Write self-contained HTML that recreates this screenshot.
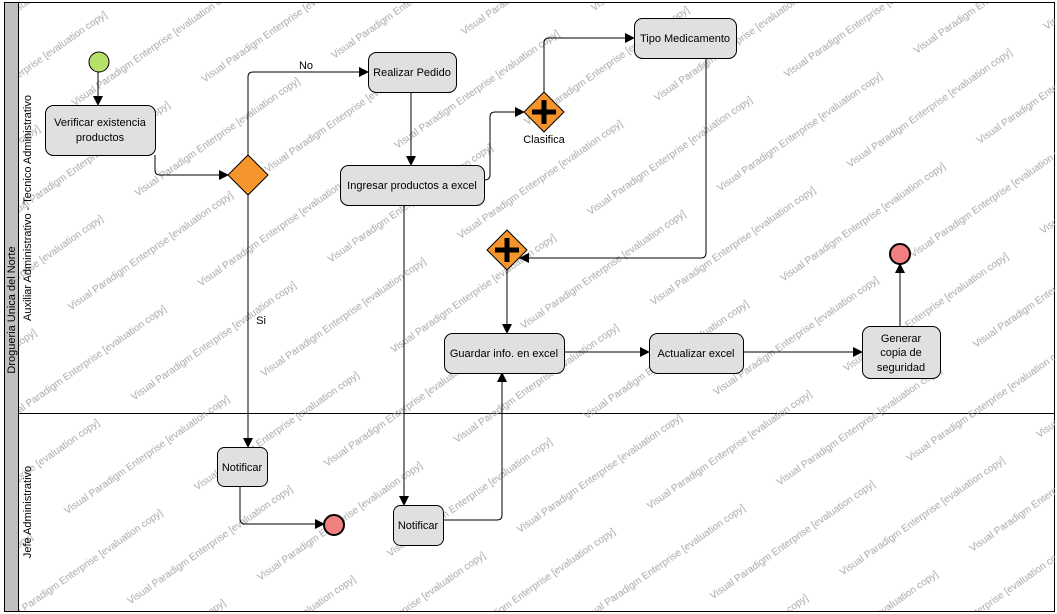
<!DOCTYPE html>
<html><head><meta charset="utf-8"><style>
html,body{margin:0;padding:0;background:#fff;}
svg{display:block;font-family:"Liberation Sans",sans-serif;}
</style></head><body>
<svg width="1057" height="614" viewBox="0 0 1057 614" xmlns="http://www.w3.org/2000/svg">
<defs>
<pattern id="wm" patternUnits="userSpaceOnUse" width="240" height="110" patternTransform="rotate(-35)">
<text x="0" y="20" font-size="10" fill="#a8a8a8">Visual Paradigm Enterprise [evaluation copy]</text>
<text x="120" y="75" font-size="10" fill="#a8a8a8">Visual Paradigm Enterprise [evaluation copy]</text>
<text x="-120" y="75" font-size="10" fill="#a8a8a8">Visual Paradigm Enterprise [evaluation copy]</text>
</pattern>
<marker id="a" markerWidth="10" markerHeight="10" refX="9" refY="5" orient="auto" markerUnits="userSpaceOnUse">
<path d="M0,0 L10,5 L0,10 z" fill="#000"/>
</marker>
</defs>
<rect x="0" y="0" width="1057" height="614" fill="#fff"/>
<rect x="4.5" y="2.5" width="1050" height="609" fill="none" stroke="#000"/>
<rect x="5" y="3" width="13" height="608" fill="#c0c0c0"/>
<line x1="18.5" y1="3" x2="18.5" y2="611" stroke="#000"/>
<line x1="18" y1="413.5" x2="1055" y2="413.5" stroke="#000"/>
<rect x="19" y="3" width="1036" height="608" fill="url(#wm)"/>
<text transform="translate(15,310) rotate(-90)" text-anchor="middle" font-size="11">Drogueria Unica del Norte</text>
<text transform="translate(31,208) rotate(-90)" text-anchor="middle" font-size="11">Auxiliar Administrativo - Tecnico Administrativo</text>
<text transform="translate(31,512) rotate(-90)" text-anchor="middle" font-size="11">Jefe Administrativo</text>

<g fill="none" stroke="#000" stroke-width="1">
<path d="M98,72 V105" marker-end="url(#a)"/>
<path d="M155,155 V170 Q155,175 160,175 H228" marker-end="url(#a)"/>
<path d="M248,155 V77 Q248,72 253,72 H368" marker-end="url(#a)"/>
<path d="M248,195 V447" marker-end="url(#a)"/>
<path d="M411,92 V165" marker-end="url(#a)"/>
<path d="M484,180 Q490,180 490,175 V117 Q490,112 495,112 H524" marker-end="url(#a)"/>
<path d="M544,92 V43 Q544,38 549,38 H634" marker-end="url(#a)"/>
<path d="M706,58 V253 Q706,258 701,258 H520" marker-end="url(#a)"/>
<path d="M507,270 V333" marker-end="url(#a)"/>
<path d="M404,205 V505" marker-end="url(#a)"/>
<path d="M443,520 H497 Q502,520 502,515 V373" marker-end="url(#a)"/>
<path d="M564,352 H649" marker-end="url(#a)"/>
<path d="M743,352 H862" marker-end="url(#a)"/>
<path d="M900,326 V264" marker-end="url(#a)"/>
<path d="M240,486 V519 Q240,524 245,524 H324" marker-end="url(#a)"/>
</g>
<text x="306" y="69" font-size="11" text-anchor="middle">No</text>
<text x="261" y="324" font-size="11" text-anchor="middle">Si</text>

<g fill="#e0e0e0" stroke="#000">
<rect x="45.5" y="105.5" width="110" height="50" rx="8"/>
<rect x="368.5" y="52.5" width="88" height="40" rx="8"/>
<rect x="340.5" y="165.5" width="144" height="40" rx="8"/>
<rect x="634.5" y="18.5" width="102" height="40" rx="8"/>
<rect x="444.5" y="333.5" width="120" height="40" rx="8"/>
<rect x="649.5" y="333.5" width="94" height="40" rx="8"/>
<rect x="862.5" y="326.5" width="78" height="52" rx="8"/>
<rect x="217.5" y="447.5" width="50" height="39" rx="7"/>
<rect x="393.5" y="505.5" width="50" height="40" rx="7"/>
</g>
<g font-size="11" text-anchor="middle" fill="#000">
<text x="100" y="126">Verificar  existencia</text>
<text x="100" y="141">productos</text>
<text x="412" y="76">Realizar Pedido</text>
<text x="412" y="189">Ingresar productos a excel</text>
<text x="685" y="42">Tipo Medicamento</text>
<text x="504" y="357">Guardar info. en excel</text>
<text x="696" y="357">Actualizar excel</text>
<text x="901" y="342">Generar</text>
<text x="901" y="356">copia de</text>
<text x="901" y="371">seguridad</text>
<text x="242" y="471">Notificar</text>
<text x="418" y="529">Notificar</text>
<text x="544" y="143">Clasifica</text>
</g>

<circle cx="99" cy="62" r="10" fill="#b5e06a" stroke="#000"/>
<circle cx="900" cy="254" r="10" fill="#f08080" stroke="#000" stroke-width="2"/>
<circle cx="334" cy="525" r="10" fill="#f08080" stroke="#000" stroke-width="2"/>
<polygon points="248,155 268,175 248,195 228,175" fill="#f5952b" stroke="#000"/>
<polygon points="544,92 564,112 544,132 524,112" fill="#f5952b" stroke="#000"/>
<path d="M544,100 V124 M532,112 H556" stroke="#000" stroke-width="5"/>
<polygon points="507,230 527,250 507,270 487,250" fill="#f5952b" stroke="#000"/>
<path d="M507,238 V262 M495,250 H519" stroke="#000" stroke-width="5"/>
</svg>
</body></html>
